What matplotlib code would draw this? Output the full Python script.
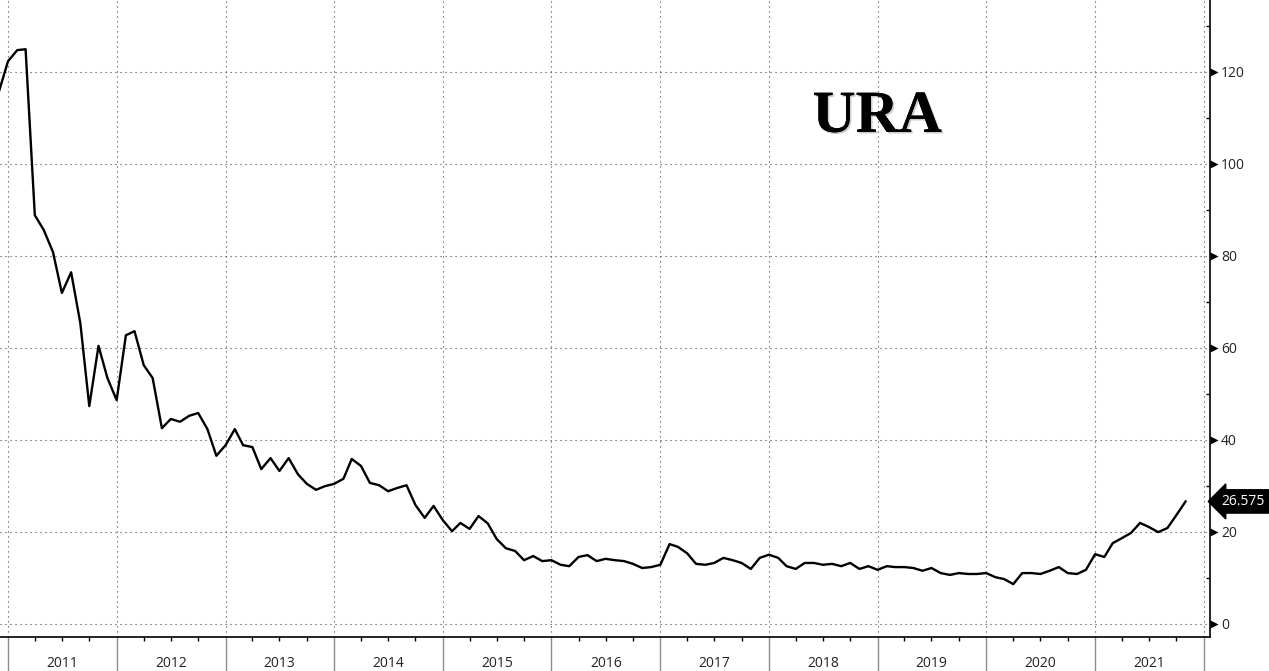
import numpy as np
import pandas as pd
import matplotlib
matplotlib.use('Agg')
import matplotlib.pyplot as plt
import matplotlib.dates as mdates
import matplotlib.transforms as mtransforms
import matplotlib.patheffects as pe

# monthly URA closes, Dec 2010 .. Nov 2021
dates = pd.date_range('2010-12-01', periods=132, freq='MS')
prices = [
    115.6,
    122.3, 124.7, 124.9, 88.8, 85.6, 80.8, 71.9, 76.4, 65.3, 47.3, 60.4, 53.4,   # 2011
    48.6, 62.7, 63.6, 56.2, 53.4, 42.5, 44.5, 43.9, 45.2, 45.8, 42.3, 36.5,      # 2012
    38.8, 42.3, 38.8, 38.4, 33.6, 36.0, 33.2, 36.0, 32.5, 30.4, 29.1, 29.9,      # 2013
    30.4, 31.5, 35.8, 34.3, 30.6, 30.1, 28.8, 29.5, 30.1, 25.8, 23.0, 25.6,      # 2014
    22.5, 20.1, 21.9, 20.6, 23.4, 21.8, 18.4, 16.4, 15.8, 13.8, 14.7, 13.6,      # 2015
    13.8, 12.8, 12.5, 14.5, 14.9, 13.6, 14.1, 13.8, 13.6, 13.0, 12.1, 12.3,      # 2016
    12.8, 17.3, 16.7, 15.3, 13.0, 12.8, 13.2, 14.3, 13.8, 13.2, 11.9, 14.3,      # 2017
    15.0, 14.3, 12.5, 11.9, 13.2, 13.2, 12.8, 13.0, 12.5, 13.2, 11.9, 12.5,      # 2018
    11.7, 12.5, 12.3, 12.3, 12.1, 11.5, 12.1, 11.0, 10.6, 11.0, 10.8, 10.8,      # 2019
    11.0, 10.1, 9.7, 8.6, 11.0, 11.0, 10.8, 11.5, 12.3, 11.0, 10.8, 11.7,        # 2020
    15.1, 14.5, 17.5, 18.6, 19.7, 21.9, 21.0, 19.9, 20.8, 23.6, 26.575,          # 2021
]
years = list(range(2011, 2022))
yticks = [0, 20, 40, 60, 80, 100, 120]
last_label = '26.575'

fig = plt.figure(figsize=(12.69, 6.71), dpi=100)
ax = fig.add_axes([0.0, 1 - 637 / 671, 1210 / 1269, 637 / 671])

ax.plot(dates, prices, color='black', lw=1.7, zorder=3)

ax.set_xlim(pd.Timestamp('2010-12-05'), pd.Timestamp('2022-01-22'))
ax.set_ylim(-2.9, 135.6)

# spines
for s in ['left', 'top']:
    ax.spines[s].set_visible(False)
for s in ['right', 'bottom']:
    ax.spines[s].set_color('black')
    ax.spines[s].set_linewidth(1.2)

# x axis: year separators + quarter ticks, labels centred in each year
ax.xaxis.set_major_locator(mdates.YearLocator())
ax.xaxis.set_minor_locator(mdates.MonthLocator(bymonth=[4, 7, 10]))
ax.xaxis.set_major_formatter(plt.NullFormatter())
ax.tick_params(axis='x', which='major', length=25, width=1, color='#8c8c8c', direction='out')
ax.tick_params(axis='x', which='minor', length=3, width=1, color='black', direction='out')
for y in years:
    ax.text(pd.Timestamp(f'{y}-07-02'), -0.041, str(y), transform=ax.get_xaxis_transform(),
            ha='center', va='center', fontsize=10, family='Open Sans', color='#222222')

# y axis on the right
ax.yaxis.tick_right()
ax.set_yticks(yticks)
ax.set_yticks(np.arange(10, 135, 20), minor=True)
ax.tick_params(axis='y', which='major', length=0, pad=8, labelsize=10, labelcolor='#222222')
ax.tick_params(axis='y', which='minor', length=3, width=1, direction='in', color='black')
for lab in ax.get_yticklabels():
    lab.set_family('Open Sans')

# triangle markers for the major y ticks
tri_tr = ax.get_yaxis_transform() + mtransforms.ScaledTranslation(2.6 / 72, 0, fig.dpi_scale_trans)
ax.scatter([1.0] * len(yticks), yticks, marker='>', s=34, color='black',
           transform=tri_tr, clip_on=False, zorder=5, linewidths=0)

ax.grid(True, which='major', axis='both', color='#444444', linestyle=(0, (1, 3.5)), linewidth=0.8)

# last value tag
ax.annotate(last_label, xy=(1.0, prices[-1]), xycoords=ax.get_yaxis_transform(),
            xytext=(8, 0), textcoords='offset points', ha='left', va='center',
            fontsize=10, family='Open Sans', color='white', annotation_clip=False,
            bbox=dict(boxstyle='larrow,pad=0.3', fc='black', ec='black'))

t = ax.text(0.725, 0.815, 'URA', transform=ax.transAxes, ha='center', va='center',
            fontsize=43, fontweight='bold', family='Liberation Serif', color='black')
t.set_path_effects([pe.withSimplePatchShadow(offset=(1.2, -1.2), alpha=0.2), pe.Normal()])

fig.savefig('out.png', dpi=100)
